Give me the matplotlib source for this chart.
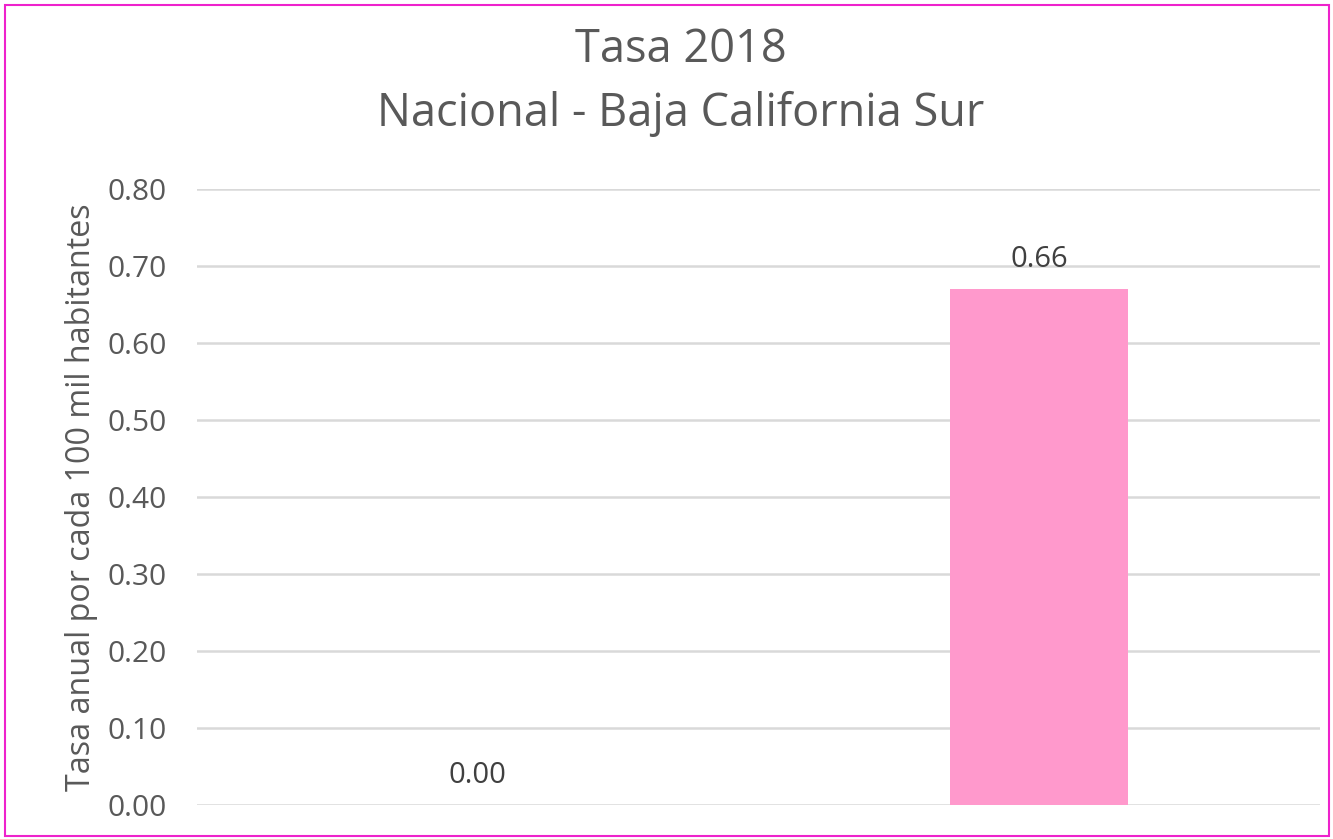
import matplotlib
matplotlib.use("Agg")
import matplotlib.pyplot as plt
from matplotlib.patches import Rectangle

categories = ["Nacional", "Baja California Sur"]
values = [0.00, 0.67]
labels = ["0.00", "0.66"]
yticks = [0.0, 0.1, 0.2, 0.3, 0.4, 0.5, 0.6, 0.7, 0.8]

plt.rcParams['font.family'] = ['Open Sans', 'DejaVu Sans']
grey = '#595959'

fig = plt.figure(figsize=(13.33, 8.39), dpi=100)
ax = fig.add_axes([197/1333, 1 - 805/839, (1320-197)/1333, (805-189)/839])

x = list(range(len(categories)))
ax.bar(x, values, width=0.317, color='#FF99CC', zorder=3)
for xi, v, lab in zip(x, values, labels):
    ax.annotate(lab, (xi, v), xytext=(0, 11), textcoords='offset points',
                ha='center', va='bottom', fontsize=21, color='#404040')

ax.set_xlim(-0.5, 1.5)
ax.set_ylim(0, 0.8)
ax.set_yticks(yticks)
ax.set_yticklabels([f"{t:.2f}" for t in yticks], fontsize=21.5, color=grey)
ax.set_xticks([])
ax.tick_params(axis='y', length=0, pad=22)
ax.grid(axis='y', color='#D9D9D9', linewidth=1.8, zorder=0)
for s in ax.spines.values():
    s.set_visible(False)
ax.set_ylabel("Tasa anual por cada 100 mil habitantes", fontsize=23.2, color=grey)
ax.yaxis.set_label_coords((98 - 197) / (1320 - 197), 0.5)

fig.text(681/1333, 1 - 50/839, "Tasa 2018", ha='center', va='center', fontsize=32.5, color=grey)
fig.text(681/1333, 1 - 114/839, "Nacional - Baja California Sur", ha='center', va='center', fontsize=32.5, color=grey)

fig.patches.append(Rectangle((5/1333, 3/839), 1324/1333, 831/839, transform=fig.transFigure,
                             fill=False, edgecolor='#EE22CC', linewidth=1.5))

fig.savefig("out.png", dpi=100)
